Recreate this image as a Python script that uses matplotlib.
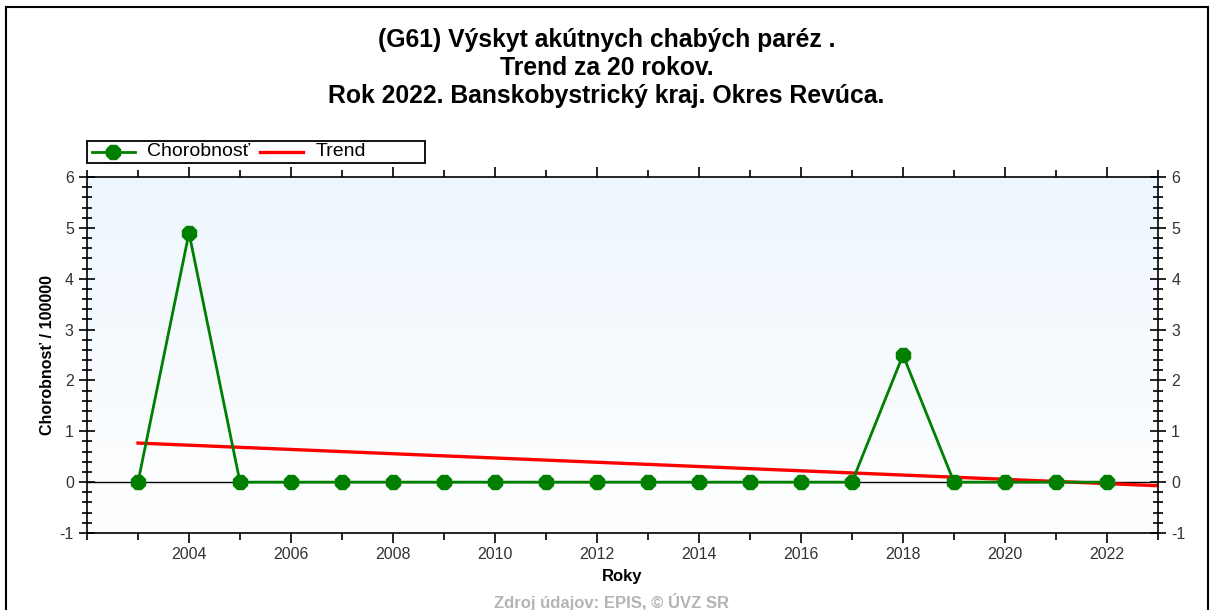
import matplotlib.pyplot as plt
from matplotlib.ticker import MultipleLocator, FixedLocator
from matplotlib.patches import Rectangle
from matplotlib.lines import Line2D
import numpy as np

plt.rcParams['font.family'] = ['Liberation Sans', 'DejaVu Sans']
plt.rcParams['axes.unicode_minus'] = False

years = list(range(2003, 2023))
chorobnost = [0, 4.9, 0, 0, 0, 0, 0, 0, 0, 0, 0, 0, 0, 0, 0, 2.5, 0, 0, 0, 0]
year_labels = list(range(2004, 2023, 2))
title_lines = ["(G61) Výskyt akútnych chabých paréz .",
               "Trend za 20 rokov.",
               "Rok 2022. Banskobystrický kraj. Okres Revúca."]

W, H = 1213, 610


def fx(px):
    return px / W


def fy(py):
    return 1 - py / H


# linear trend fitted on the yearly values, drawn to the right edge
slope, intercept = np.polyfit(years, chorobnost, 1)
trend_x = np.array([years[0], years[-1] + 1])
trend_y = slope * trend_x + intercept

fig = plt.figure(figsize=(W / 100, H / 100), dpi=100)
ax = fig.add_axes([fx(87), fy(533), fx(1158 - 87), (533 - 177) / H])

# light blue to white background
grad = np.linspace(0, 1, 256).reshape(-1, 1)
top = np.array([0.93, 0.965, 0.995])
bot = np.array([1.0, 1.0, 1.0])
img = top[None, None, :] * (1 - grad[:, :, None]) + bot[None, None, :] * grad[:, :, None]
ax.imshow(img, extent=[0, 1, 0, 1], transform=ax.transAxes, aspect='auto', zorder=0)

ax.axhline(0, color='black', lw=1.0, zorder=1)
ax.plot(trend_x, trend_y, color='red', lw=2.4, zorder=2)
ax.plot(years, chorobnost, color='#007f00', lw=2.0, marker='8', markersize=11, zorder=3)

ax.set_xlim(2002, 2023)
ax.set_ylim(-1, 6)
ax.xaxis.set_major_locator(FixedLocator(year_labels))
ax.xaxis.set_minor_locator(MultipleLocator(1))
ax.yaxis.set_major_locator(MultipleLocator(1))
ax.yaxis.set_minor_locator(MultipleLocator(0.2))
ax.tick_params(axis='x', which='major', direction='out', length=7, width=1.2,
               top=True, labelsize=11.5, labelcolor='#333333', pad=3)
ax.tick_params(axis='x', which='minor', direction='out', length=5, width=1.2, top=True)
ax.tick_params(axis='y', which='major', direction='inout', length=12, width=1.2,
               right=True, labelright=True, labelsize=11.5, labelcolor='#333333')
ax.tick_params(axis='y', which='minor', direction='inout', length=7, width=1.2, right=True)
for s in ax.spines.values():
    s.set_linewidth(1.2)
ax.set_xlabel('Roky', fontsize=12, fontweight='bold', labelpad=5)
ax.set_ylabel('Chorobnosť / 100000', fontsize=11.5, fontweight='bold', labelpad=3)

# legend box above the plot
fig.add_artist(Rectangle((fx(87), fy(163)), fx(425 - 87), (163 - 141) / H,
                         transform=fig.transFigure, facecolor='white',
                         edgecolor='black', lw=1.3))
ly = fy(152)
fig.add_artist(Line2D([fx(92), fx(135)], [ly, ly], color='#007f00', lw=2.0,
                      transform=fig.transFigure))
fig.add_artist(Line2D([fx(113.5)], [ly], color='#007f00', marker='8', markersize=11,
                      transform=fig.transFigure))
fig.text(fx(147), ly, 'Chorobnosť', ha='left', va='center', fontsize=14)
fig.add_artist(Line2D([fx(260), fx(303)], [ly, ly], color='red', lw=2.4,
                      transform=fig.transFigure))
fig.text(fx(316), ly, 'Trend', ha='left', va='center', fontsize=14)

for i, line in enumerate(title_lines):
    fig.text(0.5, fy(40 + i * 28), line, ha='center', va='center',
             fontsize=17.8, fontweight='bold')

fig.text(fx(612), fy(602), 'Zdroj údajov: EPIS, © ÚVZ SR', ha='center',
         va='center', fontsize=12, fontweight='bold', color='#b4b4b4')

# outer frame
frame = dict(color='black', lw=1.5, transform=fig.transFigure)
fig.add_artist(Line2D([fx(6), fx(6)], [0, fy(7)], **frame))
fig.add_artist(Line2D([fx(1208), fx(1208)], [0, fy(7)], **frame))
fig.add_artist(Line2D([fx(6), fx(1208)], [fy(7), fy(7)], **frame))

fig.savefig('out.png', dpi=100)
